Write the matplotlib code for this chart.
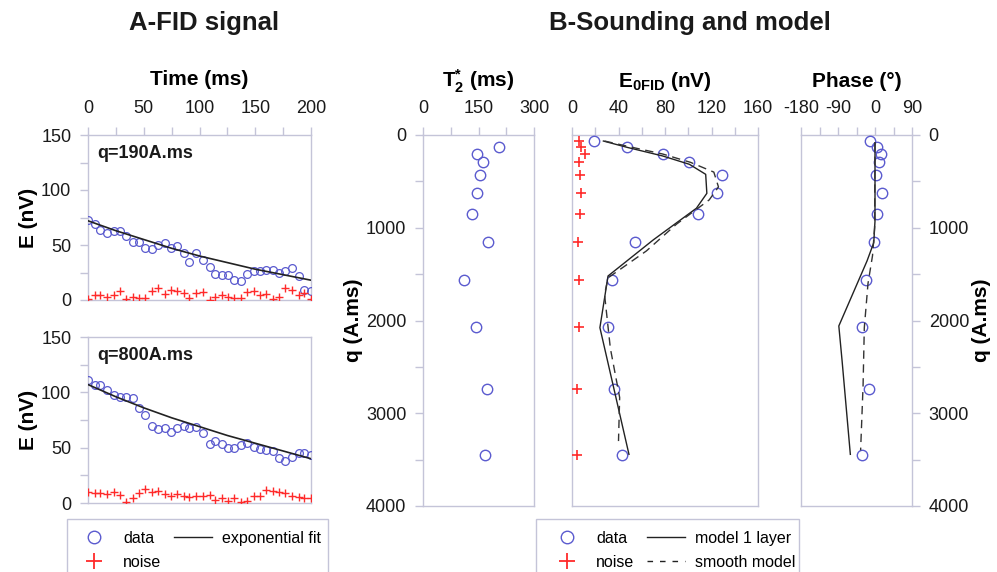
import matplotlib
matplotlib.use('Agg')
import matplotlib.pyplot as plt
from matplotlib.lines import Line2D
from matplotlib.patches import Rectangle
from matplotlib.ticker import MultipleLocator

plt.rcParams['font.family'] = ['Liberation Sans', 'DejaVu Sans']
plt.rcParams['mathtext.fontset'] = 'custom'
plt.rcParams['mathtext.rm'] = 'Liberation Sans'
plt.rcParams['mathtext.bf'] = 'Liberation Sans:bold'
plt.rcParams['axes.unicode_minus'] = False

# ---------------- data ----------------
time_ms = [0, 6, 11, 17, 23, 29, 34, 40, 46, 51, 57, 63, 69, 74, 80, 86, 91, 97,
           103, 109, 114, 120, 126, 131, 137, 143, 149, 154, 160, 166, 171, 177,
           183, 189, 194, 200]
data_q190 = [73, 69, 64, 61, 63, 63, 58, 53, 53, 47, 46, 50, 51.5, 47, 49, 43, 35, 43,
             36, 30, 24, 23, 23, 18, 17, 24, 26, 26, 27, 27, 25, 26, 29, 22, 9, 8]
noise_q190 = [1, 5, 5, 3, 4.5, 8.5, 1, 2.5, 1.5, 1.5, 8, 10.5, 5.5, 9, 8, 6.5, 1.5, 6,
              7, 0, 2.5, 4.5, 3, 2, 2, 7, 8, 5, 5.5, 0.6, 3, 11, 9, 5, 6, 0.6]
data_q800 = [111, 106.5, 107, 102.5, 98, 96, 95.5, 95, 86, 79.5, 69.5, 66.5, 68, 64,
             68, 69.5, 68, 68.5, 63, 53, 56, 53, 50, 49.5, 52.5, 54, 51, 48.5, 48, 47,
             41, 38, 42, 45.5, 45.5, 43.5]
noise_q800 = [9.6, 9, 9, 8.4, 9.6, 7.5, 0.6, 4.5, 9, 12.6, 9.6, 10.5, 8, 6.6, 8, 6,
              5.4, 6, 6.6, 7.5, 2.4, 4.5, 2, 4.5, 0.6, 1.5, 6, 6, 12, 11, 10, 9, 6, 5,
              4.5, 4.5]
fit_time = [0, 25, 50, 75, 100, 125, 150, 175, 200]
fit_q190 = [72, 63, 55, 47, 40, 34, 28, 23, 18]
fit_q800 = [107, 96, 86, 77, 69, 61, 54, 47, 40]

q_pulse = [70, 125, 200, 295, 430, 620, 850, 1150, 1560, 2065, 2740, 3455]
t2_q = [125, 200, 295, 430, 620, 850, 1150, 1560, 2065, 2740, 3455]
t2_ms = [206, 147, 161, 155, 145, 133, 177, 110, 143, 174, 167]
e0_data = [18.6, 47.6, 78.3, 101, 129, 125, 108, 54, 34.7, 31, 36, 43.3]
e0_noise = [6, 8, 10.9, 6, 7.2, 8, 7.2, 5.2, 6, 6, 4.3, 4.3]
phase_data = [-13, 5, 15, 10.5, 1.6, 18, 5, -3, -22, -31, -14, -31]

model1_q = [65, 135, 226, 316, 424, 629, 790, 1130, 1520, 2077, 3443]
model1_e0 = [27, 48, 78, 101, 115, 116, 107, 70, 31, 24, 49]
smooth_q = [65, 128, 205, 295, 400, 560, 700, 960, 1250, 1540, 1720, 2300, 2830, 3300]
smooth_e0 = [28, 50, 78, 102, 122, 126, 118, 90, 64, 31, 28, 33, 41, 40]
model1_phase_q = [83, 927, 1161, 1359, 2059, 2437, 3443]
model1_phase = [0, 0, -3, -19.5, -88, -80, -60]
smooth_phase_q = [83, 1000, 1300, 1600, 2077, 2700, 3400]
smooth_phase = [0, -1, -6, -17, -26, -29, -35]

# ---------------- styles ----------------
W, H = 997, 572
fig = plt.figure(figsize=(W / 100, H / 100), dpi=100)

SPINE = '#c4c4d8'
BLUE = '#5b5bcf'
RED = '#ff2a2a'
TXT = '#1a1a1a'
LAB = 15


def rect(l, t, r, b):
    return [l / W, 1 - b / H, (r - l) / W, (b - t) / H]


def style(ax):
    for s in ax.spines.values():
        s.set_color(SPINE)
        s.set_linewidth(1.0)
    ax.tick_params(which='both', direction='out', length=6, width=1.0,
                   color=SPINE, labelcolor=TXT, labelsize=13)
    ax.set_facecolor('white')


# ---------------- panel A ----------------
axA1 = fig.add_axes(rect(88, 135, 311, 300))
axA2 = fig.add_axes(rect(88, 337, 311, 503))

for ax, d, n, f, lab in [(axA1, data_q190, noise_q190, fit_q190, 'q=190A.ms'),
                         (axA2, data_q800, noise_q800, fit_q800, 'q=800A.ms')]:
    style(ax)
    ax.plot(time_ms, d, 'o', ms=5.6, mfc='none', mec=BLUE, mew=0.9, zorder=3)
    ax.plot(time_ms, n, '+', ms=6, color=RED, mew=1.0, zorder=3)
    ax.plot(fit_time, f, '-', color='#222222', lw=1.2, zorder=4)
    ax.set_xlim(0, 200)
    ax.set_ylim(0, 150)
    ax.xaxis.set_major_locator(MultipleLocator(50))
    ax.xaxis.set_minor_locator(MultipleLocator(25))
    ax.yaxis.set_major_locator(MultipleLocator(50))
    ax.yaxis.set_minor_locator(MultipleLocator(25))
    ax.tick_params(axis='y', pad=6)
    ax.set_ylabel('E (nV)', fontsize=LAB, fontweight='bold', labelpad=2)
    ax.text(0.04, 0.89, lab, transform=ax.transAxes, fontsize=13,
            fontweight='bold', va='center', ha='left', color=TXT)
    for s in ax.spines.values():
        s.set_zorder(1)

axA1.xaxis.tick_top()
axA1.xaxis.set_label_position('top')
axA1.tick_params(axis='x', pad=7)
axA1.set_xlabel('Time (ms)', fontsize=LAB, fontweight='bold', labelpad=11)
axA2.tick_params(axis='x', which='both', bottom=False, top=False,
                 labelbottom=False, labeltop=False)

# ---------------- panel B ----------------
axT = fig.add_axes(rect(423, 135, 534, 506))
axE = fig.add_axes(rect(572, 135, 758, 506))
axP = fig.add_axes(rect(801, 135, 912, 506))

for ax in (axT, axE, axP):
    style(ax)
    ax.set_ylim(4000, 0)
    ax.yaxis.set_major_locator(MultipleLocator(1000))
    ax.yaxis.set_minor_locator(MultipleLocator(500))
    ax.xaxis.tick_top()
    ax.xaxis.set_label_position('top')
    ax.tick_params(axis='x', pad=7)
    ax.tick_params(axis='y', pad=6)

axT.plot(t2_ms, t2_q, 'o', ms=7.5, mfc='none', mec=BLUE, mew=1.0)
axT.set_xlim(0, 300)
axT.xaxis.set_major_locator(MultipleLocator(150))
axT.xaxis.set_minor_locator(MultipleLocator(75))
axT.set_xlabel(r'$\mathbf{T_2^{*}}$ (ms)', fontsize=LAB, fontweight='bold', labelpad=9)
axT.set_ylabel('q (A.ms)', fontsize=LAB, fontweight='bold', labelpad=2)

axE.plot(e0_data, q_pulse, 'o', ms=7.5, mfc='none', mec=BLUE, mew=1.0, zorder=3)
axE.plot(e0_noise, q_pulse, '+', ms=7, color=RED, mew=1.2, zorder=3)
axE.plot(model1_e0, model1_q, '-', color='#222222', lw=1.0, zorder=4)
axE.plot(smooth_e0, smooth_q, '--', color='#333333', lw=1.0, dashes=(6, 4), zorder=4)
axE.set_xlim(0, 160)
axE.xaxis.set_major_locator(MultipleLocator(40))
axE.xaxis.set_minor_locator(MultipleLocator(20))
axE.tick_params(axis='y', which='both', left=False, labelleft=False)
axE.set_xlabel(r'$\mathbf{E_{0FID}}$ (nV)', fontsize=LAB, fontweight='bold', labelpad=9)

axP.plot(phase_data, q_pulse, 'o', ms=7.5, mfc='none', mec=BLUE, mew=1.0, zorder=3)
axP.plot(model1_phase, model1_phase_q, '-', color='#222222', lw=1.0, zorder=4)
axP.plot(smooth_phase, smooth_phase_q, '--', color='#333333', lw=1.0, dashes=(6, 4), zorder=4)
axP.set_xlim(-180, 90)
axP.xaxis.set_major_locator(MultipleLocator(90))
axP.xaxis.set_minor_locator(MultipleLocator(45))
axP.yaxis.tick_right()
axP.yaxis.set_label_position('right')
axP.set_ylabel('q (A.ms)', fontsize=LAB, fontweight='bold', labelpad=2)
axP.set_xlabel('Phase (°)', fontsize=LAB, fontweight='bold', labelpad=9)

# ---------------- titles ----------------
fig.text(204 / W, 1 - 23 / H, 'A-FID signal', fontsize=18.5, fontweight='bold',
         ha='center', va='center', color=TXT)
fig.text(690 / W, 1 - 23 / H, 'B-Sounding and model', fontsize=18.5, fontweight='bold',
         ha='center', va='center', color=TXT)

# ---------------- legends ----------------
h_data = Line2D([], [], ls='none', marker='o', ms=9, mfc='none', mec=BLUE, mew=1.0)
h_noise = Line2D([], [], ls='none', marker='+', ms=11, color=RED, mew=1.3)
h_fit = Line2D([], [], ls='-', color='#222222', lw=1.0)
h_smooth = Line2D([], [], ls='--', color='#222222', lw=1.0, dashes=(4, 5))

leg_kw = dict(ncol=2, fontsize=11.5, frameon=False,
              handlelength=2.4, columnspacing=0.8, handletextpad=0.6,
              labelspacing=0.55, borderpad=0.5, borderaxespad=0.0, loc='upper left')
fig.legend([h_data, h_noise, h_fit], ['data', 'noise', 'exponential fit'],
           bbox_to_anchor=(67 / W, 1 - 523 / H), **leg_kw)
fig.legend([h_data, h_noise, h_fit, h_smooth],
           ['data', 'noise', 'model 1 layer', 'smooth model'],
           bbox_to_anchor=(540 / W, 1 - 523 / H), **leg_kw)

for (l, r) in [(67, 328), (536, 799)]:
    fig.add_artist(Rectangle((l / W, -0.02), (r - l) / W, 0.02 + (H - 519) / H,
                             transform=fig.transFigure, fill=False,
                             edgecolor=SPINE, linewidth=1.0))

fig.savefig('out.png', dpi=100)
